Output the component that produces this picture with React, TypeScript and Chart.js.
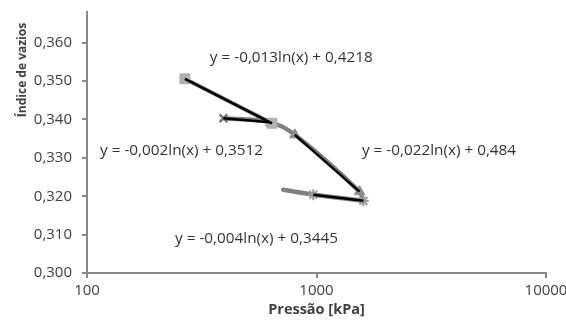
import React, { useEffect, useRef } from "react";
import { Chart, registerables } from "chart.js";

Chart.register(...registerables);

// ---- data ----
const squareX = [267, 640];
const squareY = [0.3506, 0.339];
const crossX = [393, 627];
const crossY = [0.3403, 0.3393];
const triangleX = [805, 1540];
const triangleY = [0.336, 0.3212];
const starX = [968, 1600];
const starY = [0.3204, 0.3188];
const loadingX = [393, 627, 805, 1540, 1600];
const loadingY = [0.3403, 0.3393, 0.336, 0.3212, 0.3188];
const unloadingX = [716, 968, 1600];
const unloadingY = [0.3217, 0.3204, 0.3188];

const xTicks = [100, 1000, 10000];
const yTicks = [0.3, 0.31, 0.32, 0.33, 0.34, 0.35, 0.36];

const equations = [
  "y = -0,013ln(x) + 0,4218",
  "y = -0,002ln(x) + 0,3512",
  "y = -0,022ln(x) + 0,484",
  "y = -0,004ln(x) + 0,3445",
];
// label anchors (left edge, vertical centre) in data units
const eqAnchorX = [343, 114, 1578, 242];
const eqAnchorY = [0.3561, 0.332, 0.332, 0.309];

const pts = (xs: number[], ys: number[]) => xs.map((x, i) => ({ x, y: ys[i] }));
const ends = (xs: number[], ys: number[]) => [
  { x: xs[0], y: ys[0] },
  { x: xs[xs.length - 1], y: ys[ys.length - 1] },
];

const FONT = "'Open Sans', 'DejaVu Sans', sans-serif";

export default function App() {
  const ref = useRef<HTMLCanvasElement>(null);

  useEffect(() => {
    document.body.style.margin = "0";
    if (!ref.current) return;

    const textPlugin = {
      id: "texts",
      afterDraw(chart: any) {
        const { ctx, scales } = chart;
        ctx.save();
        ctx.fillStyle = "#333333";
        ctx.font = `15.3px ${FONT}`;
        ctx.textAlign = "left";
        ctx.textBaseline = "middle";
        equations.forEach((t, i) => {
          const px = scales.x.getPixelForValue(eqAnchorX[i]);
          const py = scales.y.getPixelForValue(eqAnchorY[i]);
          ctx.fillText(t, px, py);
        });
        // axis titles
        ctx.fillStyle = "#404040";
        ctx.font = `bold 14.5px ${FONT}`;
        ctx.textAlign = "center";
        ctx.fillText("Pressão [kPa]", (chart.chartArea.left + chart.chartArea.right) / 2, 310);
        ctx.font = `bold 12px ${FONT}`;
        ctx.translate(23, 70);
        ctx.rotate(-Math.PI / 2);
        ctx.fillText("Índice de vazios", 0, 0);
        ctx.restore();
      },
    };

    const black = "#000000";
    const grayLine = "#808080";
    const markerGray = "#8c8c8c";

    const chart = new Chart(ref.current, {
      type: "scatter",
      data: {
        datasets: [
          // trendlines (drawn on top)
          { data: ends(squareX, squareY), showLine: true, borderColor: black, borderWidth: 2.5, pointRadius: 0 },
          { data: ends(crossX, crossY), showLine: true, borderColor: black, borderWidth: 2.5, pointRadius: 0 },
          { data: ends(triangleX, triangleY), showLine: true, borderColor: black, borderWidth: 2.5, pointRadius: 0 },
          { data: ends(starX, starY), showLine: true, borderColor: black, borderWidth: 2.5, pointRadius: 0 },
          // markers
          { data: pts(squareX, squareY), pointStyle: "rect", pointRadius: 7, backgroundColor: "#b0b0b0", borderColor: "#b0b0b0", borderWidth: 1 },
          { data: pts(crossX, crossY), pointStyle: "crossRot", pointRadius: 5.5, borderColor: "#777777", borderWidth: 2.5 },
          { data: pts(triangleX, triangleY), pointStyle: "triangle", pointRadius: 6, backgroundColor: markerGray, borderColor: markerGray, borderWidth: 1 },
          { data: pts(starX, starY), pointStyle: "star", pointRadius: 5.5, borderColor: "#999999", borderWidth: 2 },
          // gray experimental curves
          { data: pts(squareX, squareY), showLine: true, borderColor: grayLine, borderWidth: 4, pointRadius: 0 },
          { data: pts(loadingX, loadingY), showLine: true, borderColor: grayLine, borderWidth: 4.5, pointRadius: 0, tension: 0.3 },
          { data: pts(unloadingX, unloadingY), showLine: true, borderColor: grayLine, borderWidth: 4.5, pointRadius: 0, borderCapStyle: "round" },
        ] as any,
      },
      options: {
        animation: false,
        responsive: false,
        devicePixelRatio: 1,
        layout: { padding: { left: 0, right: 20, top: 12, bottom: 0 } },
        plugins: { legend: { display: false }, tooltip: { enabled: false } },
        scales: {
          x: {
            type: "logarithmic",
            min: 100,
            max: 10000,
            afterBuildTicks: (s: any) => {
              s.ticks = xTicks.map((v) => ({ value: v, major: true }));
            },
            afterFit: (s: any) => {
              s.height = 49;
              s.paddingLeft = 0;
              s.paddingRight = 0;
            },
            ticks: {
              autoSkip: false,
              maxRotation: 0,
              padding: 4,
              color: "#404040",
              font: { family: FONT, size: 15 },
              callback: (v: any) => String(v),
            },
            grid: { drawOnChartArea: false, drawTicks: true, tickLength: 5, color: "#888888", lineWidth: 2 },
            border: { color: "#888888", width: 2 },
          },
          y: {
            type: "linear",
            min: 0.3,
            max: 0.368,
            afterBuildTicks: (s: any) => {
              s.ticks = yTicks.map((v) => ({ value: v }));
            },
            afterFit: (s: any) => {
              s.width = 87;
              s.paddingTop = 0;
              s.paddingBottom = 0;
            },
            ticks: {
              autoSkip: false,
              padding: 10,
              color: "#404040",
              font: { family: FONT, size: 15 },
              callback: (v: any) => Number(v).toFixed(3).replace(".", ","),
            },
            grid: { drawOnChartArea: false, drawTicks: true, tickLength: 5, color: "#888888", lineWidth: 2 },
            border: { color: "#888888", width: 2 },
          },
        },
      },
      plugins: [textPlugin],
    });

    return () => chart.destroy();
  }, []);

  return <canvas ref={ref} width={566} height={322} style={{ display: "block", width: 566, height: 322 }} />;
}
